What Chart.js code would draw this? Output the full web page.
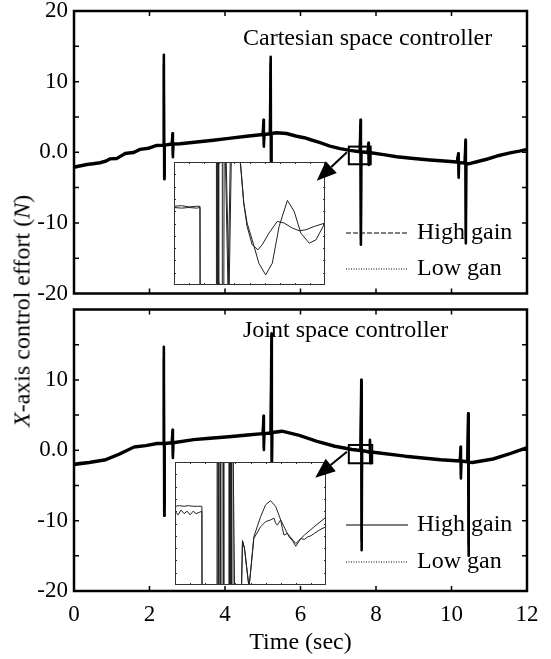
<!DOCTYPE html>
<html>
<head>
<meta charset="utf-8">
<script src="https://cdn.jsdelivr.net/npm/chart.js@4.4.1/dist/chart.umd.min.js"></script>
<style>
  html, body { margin: 0; padding: 0; background: #fff; }
  #wrap { position: relative; width: 551px; height: 659px; overflow: hidden; background: #fff; }
  canvas { position: absolute; }
  .inset { background: #fff; z-index: 0; }
  .main { z-index: 1; }
  #ylab {
    position: absolute; left: 22px; top: 311px; z-index: 2;
    transform: translate(-50%, -50%) rotate(-90deg);
    white-space: nowrap; font: 24px "Liberation Serif", serif; color: #000;
  }
</style>
</head>
<body>
<div id="wrap">
  <canvas id="cartZoom" class="inset" width="151" height="123" style="left:174px;top:162px"></canvas>
  <canvas id="jointZoom" class="inset" width="151" height="123" style="left:175px;top:462px"></canvas>
  <canvas id="cartChart" class="main" width="551" height="310" style="left:0;top:0"></canvas>
  <canvas id="jointChart" class="main" width="551" height="359" style="left:0;top:300px"></canvas>
  <div id="ylab"><i>X</i>-axis control effort (<i>N</i>)</div>
</div>
<script>
// --- Cartesian space controller (top panel) ---
const cartTime = [0, 0.15, 0.34, 0.5, 0.69, 0.85, 0.95, 1.13, 1.35, 1.57, 1.75, 1.97, 2.19, 2.36, 2.38,
  2.39, 2.4, 2.59, 2.61, 2.62, 2.63, 2.81, 3.25, 3.69, 4.1, 4.57, 5, 5.02, 5.03, 5.04, 5.19, 5.21, 5.22,
  5.23, 5.36, 5.63, 5.9, 6.1, 6.25, 6.52, 6.78, 7.05, 7.31, 7.57, 7.59, 7.6, 7.61, 7.78, 7.8, 7.81, 7.82,
  8.2, 8.55, 9, 9.43, 9.8, 10.14, 10.18, 10.19, 10.2, 10.35, 10.37, 10.38, 10.39, 10.45, 10.67, 10.93,
  11.2, 11.55, 11.8, 12];
const cartHigh = [-2.2, -2.0, -1.8, -1.7, -1.55, -1.3, -1.0, -0.95, -0.25, -0.1, 0.35, 0.5, 0.9, 0.95, 13.8,
  -3.8, 0.95, 1.1, 2.7, -0.7, 1.1, 1.15, 1.4, 1.65, 1.9, 2.2, 2.45, 4.6, 0.8, 2.45, 2.55, 13.5, -4.0,
  2.6, 2.7, 2.6, 2.2, 2.0, 1.75, 1.3, 0.8, 0.45, 0.2, 0.0, 4.6, -13.1, 0.0, -0.1, 1.35, -1.8, -0.1,
  -0.4, -0.7, -0.95, -1.15, -1.3, -1.45, -0.15, -3.6, -1.5, -1.6, 1.75, -12.9, -1.65, -1.7, -1.4, -1.05,
  -0.6, -0.15, 0.1, 0.35];
const cartLow = [-2.0, -1.85, -1.65, -1.55, -1.4, -1.15, -0.85, -0.8, -0.1, 0.05, 0.5, 0.65, 1.05, 1.1, 12.5,
  -3.2, 1.1, 1.25, 2.3, -0.4, 1.25, 1.3, 1.55, 1.8, 2.05, 2.35, 2.6, 4.1, 1.0, 2.6, 2.7, 12.6, -3.5,
  2.75, 2.85, 2.75, 2.35, 2.15, 1.9, 1.45, 0.95, 0.6, 0.35, 0.15, 3.9, -12.2, 0.15, 0.05, 1.1, -1.5, 0.05,
  -0.25, -0.55, -0.8, -1.0, -1.15, -1.3, -0.3, -3.2, -1.35, -1.45, 1.4, -12.0, -1.5, -1.55, -1.25, -0.9,
  -0.45, 0.0, 0.25, 0.5];

// zoomed window of the top panel (fractions of the window)
const cartZoomHighX = [0, 0.05, 0.1, 0.15, 0.172, 0.173, 0.28, 0.281, 0.29, 0.291, 0.318, 0.32, 0.34, 0.358,
  0.373, 0.41, 0.44, 0.462, 0.484, 0.518, 0.556, 0.584, 0.629, 0.684, 0.729, 0.784, 0.829, 0.873, 0.929, 1.0];
const cartZoomHighY = [0.64, 0.645, 0.635, 0.64, 0.64, -0.05, -0.05, 1.05, 1.05, -0.05, -0.05, 1.05, 1.05, -0.05,
  1.05, 1.05, 0.993, 0.667, 0.476, 0.327, 0.286, 0.327, 0.422, 0.517, 0.504, 0.463, 0.441, 0.449, 0.476, 0.504];
const cartZoomLowX = [0, 0.05, 0.1, 0.15, 0.172, 0.173, 0.285, 0.286, 0.295, 0.296, 0.33, 0.332, 0.345, 0.365,
  0.38, 0.42, 0.44, 0.462, 0.484, 0.518, 0.562, 0.607, 0.651, 0.696, 0.751, 0.796, 0.84, 0.896, 0.94, 1.0];
const cartZoomLowY = [0.63, 0.625, 0.63, 0.625, 0.63, -0.05, -0.05, 1.05, 1.05, -0.05, -0.05, 1.05, 1.05, -0.05,
  1.05, 1.05, 0.993, 0.667, 0.504, 0.367, 0.177, 0.082, 0.177, 0.476, 0.688, 0.598, 0.422, 0.34, 0.367, 0.504];

// --- Joint space controller (bottom panel) ---
const jointTime = [0, 0.15, 0.4, 0.84, 1.2, 1.59, 1.9, 2.2, 2.36, 2.38, 2.39, 2.4, 2.59, 2.61, 2.62, 2.63,
  3.17, 3.6, 4.1, 4.6, 5, 5.02, 5.03, 5.04, 5.21, 5.23, 5.24, 5.25, 5.51, 5.97, 6.44, 6.91, 7.37, 7.59,
  7.61, 7.62, 7.63, 7.82, 7.84, 7.85, 7.86, 7.93, 8.77, 9.71, 10.22, 10.24, 10.25, 10.26, 10.42, 10.44,
  10.45, 10.46, 10.55, 11.1, 11.57, 12];
const jointHigh = [-2.1, -2.0, -1.8, -1.4, -0.6, 0.4, 0.6, 0.9, 0.9, 14.7, -9.3, 0.9, 1.0, 2.9, -1.1, 1.0,
  1.45, 1.65, 1.85, 2.1, 2.3, 4.9, 0.05, 2.3, 2.4, 16.6, -4.5, 2.45, 2.65, 2.05, 1.2, 0.5, 0.05, -0.1,
  10.0, -14.2, -0.1, -0.3, 1.5, -1.85, -0.3, -0.35, -0.9, -1.4, -1.6, 0.5, -4.0, -1.6, -1.7, 5.25,
  -15.0, -1.75, -1.8, -1.3, -0.5, 0.3];
const jointLow = [-1.9, -1.8, -1.65, -1.25, -0.45, 0.55, 0.75, 1.05, 1.05, 13.0, -8.0, 1.05, 1.15, 2.5, -0.8, 1.15,
  1.6, 1.8, 2.0, 2.25, 2.45, 4.2, 0.4, 2.45, 2.55, 15.0, -3.8, 2.6, 2.8, 2.2, 1.35, 0.65, 0.2, 0.05,
  8.8, -12.8, 0.05, -0.15, 1.2, -1.5, -0.15, -0.2, -0.75, -1.25, -1.45, 0.1, -3.5, -1.45, -1.55, 4.5,
  -13.5, -1.6, -1.65, -1.15, -0.35, 0.45];

const jointZoomHighX = [0, 0.03, 0.06, 0.09, 0.12, 0.15, 0.178, 0.179, 0.278, 0.279, 0.289, 0.29, 0.311, 0.312,
  0.322, 0.323, 0.356, 0.357, 0.367, 0.368, 0.384, 0.385, 0.39, 0.395, 0.44, 0.447, 0.46, 0.49, 0.5, 0.522,
  0.567, 0.6, 0.633, 0.667, 0.7, 0.744, 0.8, 0.856, 0.922, 1.0];
const jointZoomHighY = [0.64, 0.645, 0.64, 0.645, 0.64, 0.64, 0.64, -0.05, -0.05, 1.05, 1.05, -0.05, -0.05, 1.05,
  1.05, -0.05, -0.05, 1.05, 1.05, -0.05, -0.05, 1.05, 1.05, -0.05, -0.05, 0.36, 0.3, -0.02, 0.1, 0.391,
  0.556, 0.652, 0.685, 0.638, 0.529, 0.419, 0.337, 0.405, 0.474, 0.551];
const jointZoomLowX = [0, 0.02, 0.04, 0.06, 0.08, 0.1, 0.12, 0.14, 0.16, 0.178, 0.179, 0.283, 0.284, 0.3, 0.301,
  0.36, 0.361, 0.372, 0.373, 0.44, 0.447, 0.46, 0.49, 0.5, 0.522, 0.567, 0.6, 0.633, 0.656, 0.667, 0.678,
  0.7, 0.711, 0.722, 0.744, 0.756, 0.778, 0.8, 0.833, 0.856, 0.878, 0.9, 0.922, 0.956, 1.0];
const jointZoomLowY = [0.6, 0.57, 0.61, 0.58, 0.6, 0.57, 0.6, 0.58, 0.59, 0.6, -0.05, -0.05, 1.05, 1.05, -0.05,
  -0.05, 1.05, 1.05, -0.05, -0.05, 0.36, 0.3, -0.02, 0.1, 0.378, 0.474, 0.515, 0.529, 0.543, 0.5, 0.488,
  0.529, 0.46, 0.405, 0.42, 0.391, 0.36, 0.315, 0.378, 0.37, 0.391, 0.4, 0.419, 0.447, 0.474];

const seriesLabels = ["High gain", "Low gan"];
const timeTicks = [0, 2, 4, 6, 8, 10, 12];

Chart.defaults.font.family = '"Liberation Serif", "Times New Roman", serif';
Chart.defaults.color = "#000";

const pts = (xs, ys) => xs.map((t, i) => ({ x: t, y: ys[i] }));

function drawArrow(ctx, x, y, mark) {
  const fx = x.getPixelForValue(mark.from[0]), fy = y.getPixelForValue(mark.from[1]);
  const tx = x.getPixelForValue(mark.to[0]), ty = y.getPixelForValue(mark.to[1]);
  const len = Math.hypot(tx - fx, ty - fy);
  const dx = (tx - fx) / len, dy = (ty - fy) / len;
  const bx = tx - dx * 20, by = ty - dy * 20;
  ctx.beginPath();
  ctx.moveTo(fx, fy);
  ctx.lineTo(bx, by);
  ctx.lineWidth = 2;
  ctx.stroke();
  ctx.beginPath();
  ctx.moveTo(tx, ty);
  ctx.lineTo(bx - dy * 8, by + dx * 8);
  ctx.lineTo(bx + dy * 8, by - dx * 8);
  ctx.closePath();
  ctx.fill();
}

const panelDeco = {
  id: "panelDeco",
  afterDatasetsDraw(chart, args, opts) {
    const { ctx, chartArea: a, scales: { x, y } } = chart;
    const c = chart.canvas;
    ctx.save();
    // hole for the zoom inset that sits underneath
    const ins = opts.inset;
    ctx.clearRect(ins.left - c.offsetLeft, ins.top - c.offsetTop, ins.width, ins.height);

    ctx.strokeStyle = "#000";
    ctx.fillStyle = "#000";

    // zoom box + arrow
    const b = opts.mark.box;
    const x0 = x.getPixelForValue(b[0]), x1 = x.getPixelForValue(b[1]);
    const y0 = y.getPixelForValue(b[2]), y1 = y.getPixelForValue(b[3]);
    ctx.lineWidth = 2;
    ctx.strokeRect(x0, y0, x1 - x0, y1 - y0);
    drawArrow(ctx, x, y, opts.mark);

    // frame with inward ticks
    ctx.lineWidth = 2.5;
    ctx.strokeRect(a.left, a.top, a.right - a.left, a.bottom - a.top);
    ctx.lineWidth = 1.5;
    ctx.beginPath();
    timeTicks.slice(1, -1).forEach((t) => {
      const px = x.getPixelForValue(t);
      ctx.moveTo(px, a.bottom); ctx.lineTo(px, a.bottom - 5);
      ctx.moveTo(px, a.top); ctx.lineTo(px, a.top + 5);
    });
    for (let v = -15; v <= 15; v += 5) {
      const py = y.getPixelForValue(v);
      ctx.moveTo(a.left, py); ctx.lineTo(a.left + 5, py);
      ctx.moveTo(a.right, py); ctx.lineTo(a.right - 5, py);
    }
    ctx.stroke();

    // panel title
    ctx.font = '24px "Liberation Serif", serif';
    ctx.textBaseline = "middle";
    ctx.textAlign = "left";
    ctx.fillText(opts.title, a.left + 169, a.top + opts.titleDy);

    // legend
    chart.data.datasets.forEach((ds, i) => {
      const ly = a.bottom - opts.legendDy[i];
      ctx.beginPath();
      ctx.lineWidth = 1;
      ctx.setLineDash(opts.dashes[i]);
      ctx.moveTo(a.right - 181, ly);
      ctx.lineTo(a.right - 119, ly);
      ctx.stroke();
      ctx.setLineDash([]);
      ctx.fillText(ds.label, a.right - 110, ly);
    });
    ctx.restore();
  },
};

function mainChart(id, times, high, low, deco, showX) {
  return new Chart(document.getElementById(id), {
    type: "line",
    data: {
      datasets: [
        { label: seriesLabels[0], data: pts(times, high), borderColor: "#000", borderWidth: 2.6,
          pointRadius: 0, tension: 0, borderJoinStyle: "round" },
        { label: seriesLabels[1], data: pts(times, low), borderColor: "#000", borderWidth: 2.2,
          pointRadius: 0, tension: 0, borderJoinStyle: "round" },
      ],
    },
    options: {
      responsive: false,
      animation: false,
      layout: { padding: showX ? { top: 9.5, bottom: 0, left: 0, right: 24 } : { top: 11, bottom: 16.5, left: 0, right: 24 } },
      scales: {
        x: {
          type: "linear", min: 0, max: 12, display: showX,
          ticks: { stepSize: 2, padding: 10, font: { size: 23 }, maxRotation: 0 },
          grid: { display: false, drawTicks: false },
          border: { display: false },
          title: { display: showX, text: "Time (sec)", font: { size: 24 }, padding: { top: 0, bottom: 2 } },
          afterFit(s) {
            s.height = showX ? 68 : 0;
            s.paddingLeft = 0;
            s.paddingRight = 0;
          },
        },
        y: {
          min: -20, max: 20,
          ticks: {
            stepSize: 10, padding: 6, font: { size: 23 },
            callback: (v) => (showX && v === 20 ? "" : v === 0 ? "0.0" : String(v)),
          },
          grid: { display: false, drawTicks: false },
          border: { display: false },
          afterFit(s) { s.width = 74; s.paddingTop = 0; s.paddingBottom = 0; },
        },
      },
      plugins: { legend: { display: false }, tooltip: { enabled: false }, panelDeco: deco },
    },
    plugins: [panelDeco],
  });
}

const insetFrame = {
  id: "insetFrame",
  afterDraw(chart) {
    const { ctx, chartArea: a, scales: { x, y } } = chart;
    ctx.save();
    ctx.strokeStyle = "#333";
    ctx.lineWidth = 1;
    ctx.strokeRect(a.left + 0.5, a.top + 0.5, a.right - a.left - 1, a.bottom - a.top - 1);
    ctx.beginPath();
    for (let f = 0.1; f < 0.95; f += 0.1) {
      const px = Math.round(x.getPixelForValue(f)) + 0.5;
      const py = Math.round(y.getPixelForValue(f)) + 0.5;
      ctx.moveTo(px, a.bottom); ctx.lineTo(px, a.bottom - 2);
      ctx.moveTo(px, a.top); ctx.lineTo(px, a.top + 2);
      ctx.moveTo(a.left, py); ctx.lineTo(a.left + 2, py);
      ctx.moveTo(a.right, py); ctx.lineTo(a.right - 2, py);
    }
    ctx.stroke();
    ctx.restore();
  },
};

function insetChart(id, hx, hy, lx, ly) {
  return new Chart(document.getElementById(id), {
    type: "line",
    data: {
      datasets: [
        { data: pts(hx, hy), borderColor: "#222", borderWidth: 1, pointRadius: 0, tension: 0 },
        { data: pts(lx, ly), borderColor: "#222", borderWidth: 1, pointRadius: 0, tension: 0 },
      ],
    },
    options: {
      responsive: false,
      animation: false,
      layout: { padding: 0 },
      scales: {
        x: { type: "linear", min: 0, max: 1, display: false },
        y: { min: 0, max: 1, display: false },
      },
      plugins: { legend: { display: false }, tooltip: { enabled: false } },
    },
    plugins: [insetFrame],
  });
}

insetChart("cartZoom", cartZoomHighX, cartZoomHighY, cartZoomLowX, cartZoomLowY);
insetChart("jointZoom", jointZoomHighX, jointZoomHighY, jointZoomLowX, jointZoomLowY);

mainChart("cartChart", cartTime, cartHigh, cartLow, {
  title: "Cartesian space controller",
  titleDy: 27.3,
  legendDy: [60.5, 24.5],
  dashes: [[5, 2], [1, 1.5]],
  inset: { left: 174, top: 162, width: 151, height: 123 },
  mark: { box: [7.28, 7.86, 0.8, -1.7], from: [7.23, 0.0], to: [6.43, -4.05] },
}, false);

mainChart("jointChart", jointTime, jointHigh, jointLow, {
  title: "Joint space controller",
  titleDy: 21.5,
  legendDy: [66, 29],
  dashes: [[], [1, 1.5]],
  inset: { left: 175, top: 462, width: 151, height: 123 },
  mark: { box: [7.28, 7.9, 0.75, -1.85], from: [7.23, -0.2], to: [6.39, -3.9] },
}, true);
</script>
</body>
</html>
